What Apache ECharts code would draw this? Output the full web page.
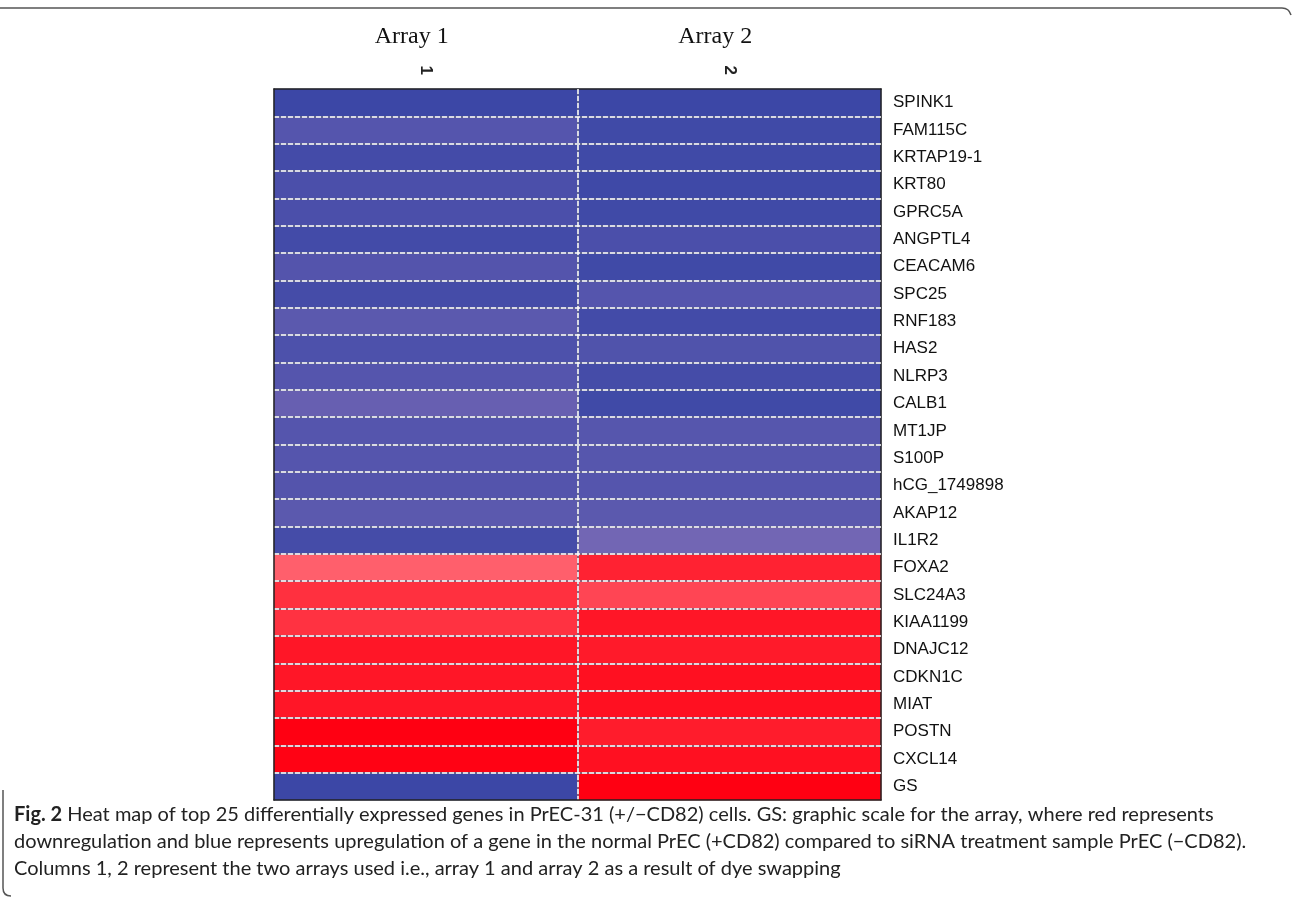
<!DOCTYPE html>
<html>
<head>
<meta charset="utf-8">
<script src="https://cdn.jsdelivr.net/npm/echarts@6/dist/echarts.min.js"></script>
<style>
  html, body { margin: 0; padding: 0; background: #fff; }
  #chart { width: 1292px; height: 898px; }
</style>
</head>
<body>
<div id="chart"></div>
<script>
// ---- data ----
const arrays = ['1', '2'];
const arrayTitles = ['Array 1', 'Array 2'];
const genes = ['SPINK1', 'FAM115C', 'KRTAP19-1', 'KRT80', 'GPRC5A', 'ANGPTL4', 'CEACAM6', 'SPC25', 'RNF183', 'HAS2',
  'NLRP3', 'CALB1', 'MT1JP', 'S100P', 'hCG_1749898', 'AKAP12', 'IL1R2', 'FOXA2', 'SLC24A3', 'KIAA1199',
  'DNAJC12', 'CDKN1C', 'MIAT', 'POSTN', 'CXCL14', 'GS'];
// negative = blue (upregulation), positive = red (downregulation)
const array1 = [-1.00, -0.78, -0.93, -0.87, -0.87, -0.94, -0.79, -0.92, -0.72, -0.85,
  -0.78, -0.62, -0.78, -0.78, -0.79, -0.72, -0.92, 0.52, 0.76, 0.75,
  0.89, 0.89, 0.89, 1.00, 0.99, -1.00];
const array2 = [-1.00, -0.96, -0.96, -0.97, -0.96, -0.87, -0.96, -0.78, -0.94, -0.82,
  -0.92, -0.96, -0.77, -0.77, -0.78, -0.72, -0.52, 0.83, 0.65, 0.89,
  0.87, 0.92, 0.92, 0.86, 0.92, 1.00];
const captionLines = [
  '{b|Fig. 2} Heat map of top 25 differentially expressed genes in PrEC-31 (+/\u2212CD82) cells. GS: graphic scale for the array, where red represents',
  'downregulation and blue represents upregulation of a gene in the normal PrEC (+CD82) compared to siRNA treatment sample PrEC (\u2212CD82).',
  'Columns 1, 2 represent the two arrays used i.e., array 1 and array 2 as a result of dye swapping'
];

// ---- build ----
const cells = [];
genes.forEach((g, i) => {
  cells.push([0, i, array1[i]]);
  cells.push([1, i, array2[i]]);
});

const chart = echarts.init(document.getElementById('chart'), null, { renderer: 'canvas' });
const gridPos = { left: 274, right: 411, top: 89, bottom: 98 };

const option = {
  backgroundColor: '#ffffff',
  animation: false,
  grid: Object.assign({ show: false }, gridPos),
  visualMap: {
    show: false,
    type: 'continuous',
    min: -1,
    max: 1,
    dimension: 2,
    inRange: { color: ['#3c47a6', '#7467b5', '#c08bb0', '#ff6370', '#ff0012'] }
  },
  xAxis: [
    {
      type: 'category', data: arrays, position: 'top', z: 10,
      axisLine: { show: true, lineStyle: { color: '#222', width: 1.5 } },
      axisTick: { show: false },
      axisLabel: { rotate: 90, margin: 14, fontSize: 17, fontWeight: 'bold', color: '#222', fontFamily: 'Liberation Sans, Arial, sans-serif' },
      splitLine: { show: true, showMinLine: false, showMaxLine: false, lineStyle: { color: '#6b7088', width: 1.5 } }
    },
    {
      type: 'category', data: arrays, position: 'bottom', z: 11,
      axisLine: { show: true, lineStyle: { color: '#222', width: 1.5 } },
      axisTick: { show: false },
      axisLabel: { show: false },
      splitLine: { show: true, showMinLine: false, showMaxLine: false, lineStyle: { color: '#ffffff', width: 1.5, type: [5, 2] } }
    },
    {
      type: 'category', data: arrayTitles, position: 'top', offset: 0, z: 9,
      axisLine: { show: false }, axisTick: { show: false },
      axisLabel: { margin: 40, fontSize: 24, color: '#111', fontFamily: 'Liberation Serif, Times New Roman, serif', padding: [0, 28, 0, 0] },
      splitLine: { show: false }
    }
  ],
  yAxis: [
    {
      type: 'category', data: genes, inverse: true, position: 'right', z: 10,
      axisLine: { show: true, lineStyle: { color: '#222', width: 1.5 } },
      axisTick: { show: false },
      axisLabel: { margin: 12, fontSize: 17, color: '#111', fontFamily: 'Liberation Sans, Arial, sans-serif' },
      splitLine: { show: true, showMinLine: false, showMaxLine: false, lineStyle: { color: '#6b7088', width: 1.5 } }
    },
    {
      type: 'category', data: genes, inverse: true, position: 'left', z: 11,
      axisLine: { show: true, lineStyle: { color: '#222', width: 1.5 } },
      axisTick: { show: false },
      axisLabel: { show: false },
      splitLine: { show: true, showMinLine: false, showMaxLine: false, lineStyle: { color: '#ffffff', width: 1.5, type: [5, 2] } }
    }
  ],
  series: [{
    type: 'heatmap',
    xAxisIndex: 0,
    yAxisIndex: 0,
    data: cells,
    itemStyle: { borderWidth: 0 },
    emphasis: { disabled: true }
  }],
  graphic: [
    {
      type: 'polyline', silent: true,
      shape: { points: [[0, 8], [1282, 8]] },
      style: { stroke: '#555', lineWidth: 1.5, fill: null }
    },
    {
      type: 'bezierCurve', silent: true,
      shape: { x1: 1282, y1: 8, cpx1: 1289, cpy1: 8, x2: 1291, y2: 15 },
      style: { stroke: '#555', lineWidth: 1.5, fill: null }
    },
    {
      type: 'polyline', silent: true,
      shape: { points: [[3, 790], [3, 888]] },
      style: { stroke: '#555', lineWidth: 1.5, fill: null }
    },
    {
      type: 'bezierCurve', silent: true,
      shape: { x1: 3, y1: 888, cpx1: 3, cpy1: 896, x2: 11, y2: 896 },
      style: { stroke: '#555', lineWidth: 1.5, fill: null }
    },
    {
      type: 'text', left: 14, top: 801,
      style: {
        text: captionLines.join('\n'),
        font: '20px Lato, "Open Sans", sans-serif',
        fill: '#222',
        lineHeight: 27,
        rich: {
          b: { fontWeight: 'bold', fontSize: 20, fontFamily: 'Lato, "Open Sans", sans-serif', fill: '#222', lineHeight: 27 }
        }
      }
    }
  ]
};
chart.setOption(option);
</script>
</body>
</html>
